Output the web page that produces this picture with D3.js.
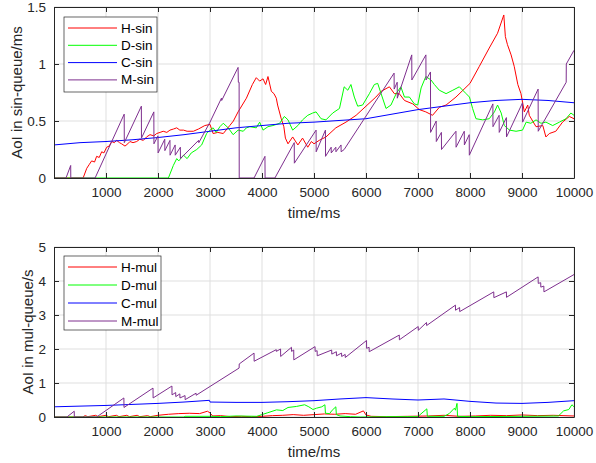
<!DOCTYPE html>
<html>
<head>
<meta charset="utf-8">
<script src="https://cdn.jsdelivr.net/npm/d3@7"></script>
<style>
  body { margin: 0; background: #fff; }
  svg { display: block; font-family: "Liberation Sans", Arial, sans-serif; }
</style>
</head>
<body>
<div id="chart"></div>
<script>
// ---- data (time in ms, AoI value) ----
var hSin = [[0,0],[560,0],[630,0.085],[680,0.12],[724,0.15],[780,0.14],[820,0.19],[870,0.18],[917,0.23],[960,0.22],[1013,0.27],[1060,0.28],[1110,0.32],[1160,0.31],[1205,0.33],[1260,0.31],[1300,0.30],[1365,0.28],[1420,0.30],[1460,0.32],[1520,0.31],[1590,0.32],[1650,0.34],[1718,0.33],[1780,0.36],[1846,0.38],[1920,0.37],[1974,0.39],[2040,0.40],[2100,0.41],[2170,0.40],[2230,0.42],[2300,0.43],[2360,0.44],[2420,0.42],[2490,0.42],[2560,0.41],[2680,0.41],[2780,0.43],[2900,0.46],[3000,0.47],[3060,0.39],[3150,0.40],[3255,0.39],[3380,0.46],[3450,0.50],[3540,0.58],[3700,0.70],[3815,0.82],[3890,0.88],[3955,0.85],[4020,0.87],[4070,0.82],[4115,0.89],[4180,0.76],[4230,0.74],[4275,0.70],[4300,0.64],[4370,0.52],[4420,0.45],[4450,0.35],[4500,0.30],[4590,0.36],[4690,0.29],[4780,0.35],[4880,0.27],[4950,0.32],[5000,0.30],[5100,0.33],[5230,0.36],[5420,0.44],[5615,0.49],[5810,0.55],[6000,0.63],[6190,0.71],[6290,0.76],[6450,0.80],[6545,0.74],[6640,0.74],[6740,0.68],[6900,0.65],[7025,0.60],[7150,0.58],[7280,0.55],[7410,0.62],[7540,0.64],[7730,0.71],[8000,0.83],[8180,0.98],[8370,1.14],[8530,1.27],[8650,1.43],[8680,1.24],[8720,1.17],[8790,1.08],[8850,0.98],[8920,0.82],[8980,0.74],[9045,0.58],[9110,0.64],[9140,0.55],[9270,0.45],[9400,0.46],[9460,0.36],[9525,0.39],[9650,0.41],[9780,0.49],[9910,0.54],[10000,0.52]];

var dSin = [[0,0],[2200,0],[2295,0.11],[2360,0.17],[2400,0.15],[2490,0.20],[2560,0.17],[2640,0.22],[2745,0.25],[2840,0.29],[2935,0.39],[3000,0.42],[3060,0.44],[3120,0.40],[3190,0.45],[3255,0.48],[3350,0.44],[3445,0.38],[3540,0.42],[3640,0.41],[3700,0.44],[3765,0.45],[3890,0.44],[3955,0.49],[4020,0.42],[4115,0.45],[4210,0.46],[4340,0.48],[4430,0.54],[4500,0.51],[4590,0.42],[4690,0.46],[4780,0.51],[4880,0.55],[4975,0.57],[5040,0.58],[5135,0.52],[5230,0.51],[5360,0.57],[5490,0.61],[5580,0.80],[5650,0.77],[5710,0.82],[5775,0.71],[5840,0.63],[5935,0.64],[6065,0.74],[6160,0.82],[6225,0.83],[6290,0.74],[6385,0.61],[6480,0.64],[6580,0.74],[6670,0.80],[6740,0.71],[6835,0.71],[6930,0.65],[6995,0.64],[7060,0.79],[7150,0.89],[7250,0.86],[7315,0.82],[7410,0.77],[7540,0.74],[7670,0.77],[7795,0.80],[7925,0.74],[7990,0.71],[8050,0.61],[8115,0.52],[8245,0.51],[8370,0.52],[8470,0.58],[8530,0.64],[8600,0.57],[8660,0.46],[8760,0.42],[8885,0.41],[9010,0.42],[9080,0.49],[9170,0.48],[9270,0.51],[9365,0.48],[9460,0.49],[9590,0.46],[9720,0.49],[9845,0.52],[9940,0.57],[10000,0.55]];

var cSin = [[0,0.29],[500,0.31],[1000,0.32],[1500,0.335],[2000,0.355],[2500,0.38],[3000,0.41],[3500,0.44],[4000,0.46],[4500,0.48],[5000,0.49],[5500,0.505],[6000,0.52],[6500,0.56],[7000,0.60],[7500,0.63],[8000,0.66],[8500,0.68],[9000,0.69],[9500,0.68],[10000,0.66]];

var mSin = [[0,0],[231,0],[321,0.11],[323,0],[790,0],[1350,0.56],[1352,0.31],[1680,0.63],[1682,0.35],[1920,0.58],[1922,0.30],[2000,0.37],[2002,0.22],[2130,0.34],[2132,0.24],[2230,0.33],[2232,0.20],[2330,0.29],[2332,0.20],[2430,0.27],[2432,0.17],[2780,0.33],[2785,0.31],[3000,0.49],[3220,0.70],[3225,0.68],[3540,0.97],[3545,0.84],[3560,0.84],[3562,0],[3847,0],[4057,0.19],[4059,0],[4248,0],[4620,0.31],[4622,0.13],[5040,0.42],[5042,0.23],[5220,0.42],[5222,0.19],[5330,0.27],[5332,0.22],[5420,0.27],[5422,0.23],[5520,0.29],[5522,0.23],[5580,0.25],[6540,0.92],[6542,0.78],[6600,0.84],[6602,0.70],[6880,1.08],[6882,0.86],[7152,1.08],[7154,0.86],[7240,0.93],[7242,0.40],[7350,0.50],[7352,0.32],[7450,0.40],[7452,0.25],[7730,0.41],[7732,0.27],[7890,0.41],[7892,0.29],[7985,0.38],[7987,0.20],[8440,0.65],[8442,0.45],[8560,0.55],[8562,0.40],[8700,0.53],[8702,0.36],[9010,0.66],[9012,0.49],[9310,0.78],[9312,0.41],[9850,0.84],[9852,1.0],[10000,1.12]];

var hMul = [[0,0],[550,0],[600,0.04],[650,0.01],[800,0.05],[850,0.01],[1000,0.05],[1050,0.01],[1200,0.05],[1250,0.01],[1400,0.05],[1450,0.01],[1600,0.05],[1650,0.01],[1800,0.04],[1850,0.01],[2000,0.05],[2200,0.08],[2400,0.10],[2600,0.11],[2800,0.10],[2950,0.17],[3000,0.12],[3050,0.03],[3200,0.04],[3400,0.01],[3600,0.02],[3800,0.01],[4000,0.02],[4200,0.04],[4400,0.05],[4600,0.07],[4800,0.05],[5000,0.07],[5200,0.09],[5400,0.08],[5600,0.10],[5800,0.08],[5950,0.18],[6000,0.06],[6100,0.02],[6400,0.01],[6800,0.02],[7200,0.03],[7500,0.05],[7800,0.02],[8100,0.03],[8400,0.05],[8700,0.04],[9000,0.06],[9300,0.04],[9600,0.05],[10000,0.03]];

var dMul = [[0,0],[2500,0],[2520,0.02],[3000,0.02],[3200,0.01],[3500,0.03],[3900,0.02],[4000,0.07],[4100,0.12],[4280,0.21],[4400,0.19],[4500,0.28],[4660,0.31],[4820,0.36],[4900,0.30],[4980,0.22],[5050,0.26],[5150,0.30],[5210,0.36],[5220,0.11],[5300,0.10],[5350,0.20],[5420,0.30],[5430,0.07],[5500,0.03],[5700,0.01],[5900,0],[6500,0.01],[7000,0.01],[7040,0.07],[7170,0.24],[7180,0.02],[7500,0.02],[7600,0.10],[7700,0.26],[7720,0.20],[7750,0.40],[7760,0.02],[8000,0.01],[9000,0.02],[9700,0.03],[9800,0.18],[9900,0.22],[9960,0.36],[10000,0.30]];

var cMul = [[0,0.30],[1000,0.34],[2000,0.40],[2500,0.44],[2990,0.49],[3000,0.44],[3500,0.43],[4000,0.43],[4500,0.45],[5000,0.48],[5500,0.53],[6000,0.57],[6500,0.53],[7000,0.50],[7500,0.53],[8000,0.46],[8500,0.41],[9000,0.40],[9500,0.43],[10000,0.48]];

var mMul = [[0,0],[248,0],[389,0.17],[391,0],[820,0],[1344,0.56],[1346,0.28],[1904,0.85],[1906,0.56],[2268,0.91],[2270,0.65],[2340,0.72],[2342,0.60],[2420,0.68],[2422,0.56],[2520,0.63],[2522,0.51],[2732,0.70],[2734,0.64],[3560,1.44],[3562,1.56],[3847,1.88],[3849,1.64],[4274,1.98],[4276,1.93],[4357,2.00],[4359,1.78],[4567,2.05],[4569,1.93],[4610,1.97],[4612,1.68],[5020,2.07],[5022,1.93],[5060,1.95],[5062,1.80],[5340,1.97],[5342,1.85],[5430,1.92],[5432,1.80],[5530,1.88],[5532,1.78],[5600,1.84],[5602,1.75],[6010,2.25],[6012,2.02],[6060,2.05],[6062,1.92],[6640,2.41],[6642,2.27],[7004,2.66],[7006,2.55],[7164,2.78],[7166,2.69],[7720,3.29],[7722,3.14],[7800,3.22],[7802,3.10],[8457,3.68],[8459,3.51],[8700,3.68],[8702,3.52],[9310,4.12],[9312,3.93],[9360,3.95],[9362,3.82],[9420,3.85],[9422,3.68],[10000,4.19]];

var xTicks = [1000,2000,3000,4000,5000,6000,7000,8000,9000,10000];
var yTicksSin = [0,0.5,1,1.5];
var yTicksMul = [0,1,2,3,4,5];
var sinNames = ["H-sin","D-sin","C-sin","M-sin"];
var mulNames = ["H-mul","D-mul","C-mul","M-mul"];
var colors = ["#ff0000","#00ff00","#0000ff","#7e2f8e"];

var width = 596, height = 463;
var axisColor = "#262626";
var gridColor = "#dfdfdf";

var svg = d3.select("#chart").append("svg")
    .attr("width", width)
    .attr("height", height);

function plain(d) { return String(d); }

function drawPanel(opt) {
    var x = d3.scaleLinear().domain([0, 10000]).range([54, 574]);
    var y = d3.scaleLinear().domain(opt.yDomain).range([opt.bottom, opt.top]);
    var g = svg.append("g");

    // grid
    g.selectAll(".gx").data(xTicks).enter().append("line")
        .attr("x1", function(d) { return x(d); })
        .attr("x2", function(d) { return x(d); })
        .attr("y1", opt.top).attr("y2", opt.bottom)
        .attr("stroke", gridColor).attr("stroke-width", 1);
    g.selectAll(".gy").data(opt.yTicks).enter().append("line")
        .attr("x1", 54).attr("x2", 574)
        .attr("y1", function(d) { return y(d); })
        .attr("y2", function(d) { return y(d); })
        .attr("stroke", gridColor).attr("stroke-width", 1);

    // clip
    var clipId = "clip" + opt.id;
    svg.append("clipPath").attr("id", clipId).append("rect")
        .attr("x", 54).attr("y", opt.top - 1)
        .attr("width", 520).attr("height", opt.bottom - opt.top + 2);

    var line = d3.line()
        .x(function(d) { return x(d[0]); })
        .y(function(d) { return y(d[1]); });

    var lines = g.append("g").attr("clip-path", "url(#" + clipId + ")");
    opt.series.forEach(function(s, i) {
        lines.append("path")
            .datum(s)
            .attr("d", line)
            .attr("fill", "none")
            .attr("stroke", colors[i])
            .attr("stroke-width", 1)
            .attr("stroke-linejoin", "round");
    });

    // axes (box, ticks inside)
    var xAxis = d3.axisBottom(x).tickValues(xTicks).tickFormat(plain).tickSizeInner(-5).tickSizeOuter(0).tickPadding(9);
    var xAxisTop = d3.axisTop(x).tickValues(xTicks).tickSizeInner(-5).tickSizeOuter(0).tickFormat("");
    var yAxis = d3.axisLeft(y).tickValues(opt.yTicks).tickFormat(plain).tickSizeInner(-5).tickSizeOuter(0).tickPadding(8);
    var yAxisRight = d3.axisRight(y).tickValues(opt.yTicks).tickSizeInner(-5).tickSizeOuter(0).tickFormat("");

    var axes = [
        g.append("g").attr("transform", "translate(0," + opt.bottom + ")").call(xAxis),
        g.append("g").attr("transform", "translate(0," + opt.top + ")").call(xAxisTop),
        g.append("g").attr("transform", "translate(54,0)").call(yAxis),
        g.append("g").attr("transform", "translate(574,0)").call(yAxisRight)
    ];
    axes.forEach(function(a) {
        a.select(".domain").attr("stroke", axisColor).attr("stroke-width", 1);
        a.selectAll(".tick line").attr("stroke", axisColor);
        a.selectAll("text").attr("fill", axisColor)
            .style("font-size", "13.5px")
            .style("font-family", "'Liberation Sans', Arial, sans-serif");
    });

    // labels
    g.append("text")
        .attr("x", 314).attr("y", opt.bottom + 40)
        .attr("text-anchor", "middle")
        .attr("fill", axisColor)
        .style("font-size", "15px")
        .text("time/ms");
    g.append("text")
        .attr("transform", "translate(" + opt.yLabelX + "," + ((opt.top + opt.bottom) / 2) + ") rotate(-90)")
        .attr("text-anchor", "middle")
        .attr("fill", axisColor)
        .style("font-size", "15px")
        .text(opt.yLabel);

    // legend
    var lg = g.append("g");
    lg.append("rect")
        .attr("x", opt.legend.x).attr("y", opt.legend.y)
        .attr("width", opt.legend.w).attr("height", opt.legend.h)
        .attr("fill", "#fff")
        .attr("stroke", axisColor).attr("stroke-width", 0.7);
    opt.names.forEach(function(name, i) {
        var cy = opt.legend.y + 11 + i * opt.legend.step;
        lg.append("line")
            .attr("x1", opt.legend.x + 4).attr("x2", opt.legend.x + 53)
            .attr("y1", cy).attr("y2", cy)
            .attr("stroke", colors[i]).attr("stroke-width", 1);
        lg.append("text")
            .attr("x", opt.legend.x + 57).attr("y", cy + 4.5)
            .attr("fill", "#000")
            .style("font-size", "13.5px")
            .text(name);
    });
}

drawPanel({
    id: "sin", top: 7, bottom: 178, yDomain: [0, 1.5], yTicks: yTicksSin,
    series: [hSin, dSin, cSin, mSin], names: sinNames,
    yLabel: "AoI in sin-queue/ms", yLabelX: 22,
    legend: { x: 64, y: 17, w: 93, h: 75, step: 17.3 }
});

drawPanel({
    id: "mul", top: 247, bottom: 417, yDomain: [0, 5], yTicks: yTicksMul,
    series: [hMul, dMul, cMul, mMul], names: mulNames,
    yLabel: "AoI in mul-queue/s", yLabelX: 33,
    legend: { x: 64, y: 256, w: 97, h: 74, step: 18 }
});
</script>
</body>
</html>
